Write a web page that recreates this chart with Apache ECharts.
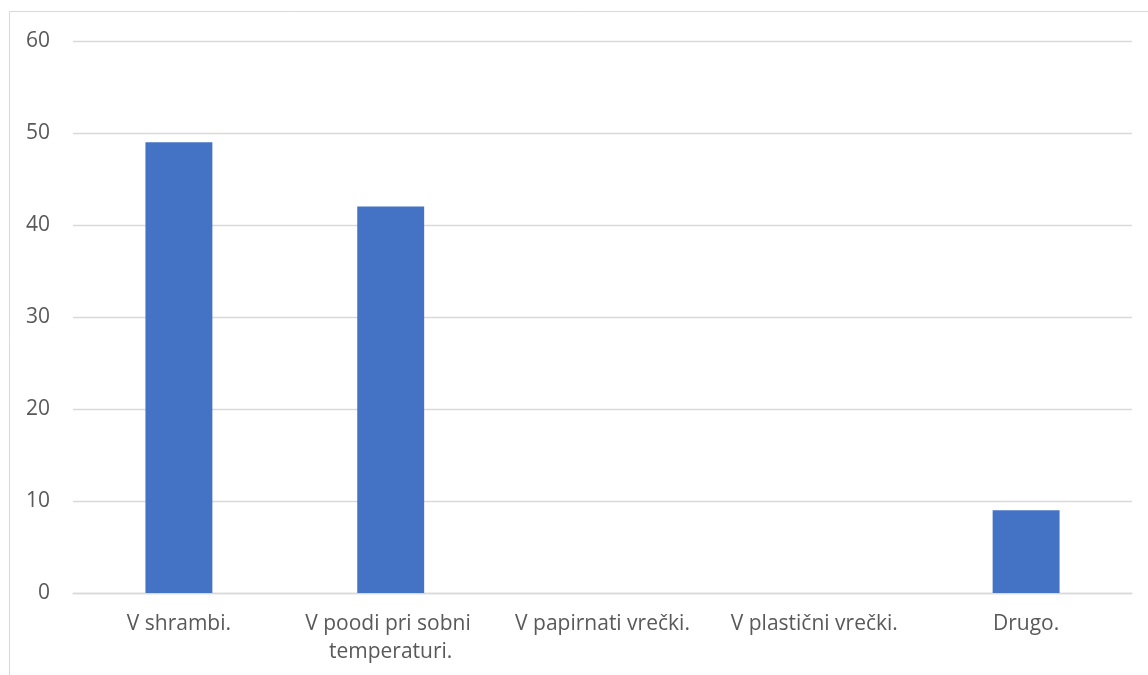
<!DOCTYPE html>
<html>
<head>
<meta charset="utf-8">
<script src="https://cdn.jsdelivr.net/npm/echarts@6/dist/echarts.min.js"></script>
<style>
html,body{margin:0;padding:0;background:#fff;}
#c{width:1148px;height:675px;}
</style>
</head>
<body>
<div id="c"></div>
<script>
const categories = ["V shrambi.", "V poodi pri sobni temperaturi.", "V papirnati vrečki.", "V plastični vrečki.", "Drugo."];
const values = [49, 42, 0, 0, 9];
const yTicks = {min: 0, max: 60, interval: 10};

const chart = echarts.init(document.getElementById('c'));
chart.setOption({
  animation: false,
  backgroundColor: '#ffffff',
  graphic: [{
    type: 'rect',
    shape: {x: 9.5, y: 11.5, width: 1200, height: 700},
    style: {fill: 'none', stroke: '#d9d9d9', lineWidth: 1},
    silent: true
  }],
  grid: {left: 73, right: 16, top: 41, bottom: 82, containLabel: false},
  xAxis: {
    type: 'category',
    data: categories,
    axisLine: {show: true, lineStyle: {color: '#d9d9d9', width: 1.3}},
    axisTick: {show: false},
    axisLabel: {
      color: '#595959',
      fontFamily: 'Open Sans',
      fontSize: 21,
      margin: 17,
      lineHeight: 28,
      width: 205,
      overflow: 'break',
      interval: 0
    }
  },
  yAxis: {
    type: 'value',
    min: yTicks.min,
    max: yTicks.max,
    interval: yTicks.interval,
    axisLine: {show: false},
    axisTick: {show: false},
    splitLine: {lineStyle: {color: '#d9d9d9', width: 1.3}},
    axisLabel: {
      color: '#595959',
      fontFamily: 'Open Sans',
      fontSize: 21,
      margin: 23
    }
  },
  series: [{
    type: 'bar',
    data: values,
    barWidth: '31.6%',
    itemStyle: {color: '#4472c4'}
  }]
});
</script>
</body>
</html>
